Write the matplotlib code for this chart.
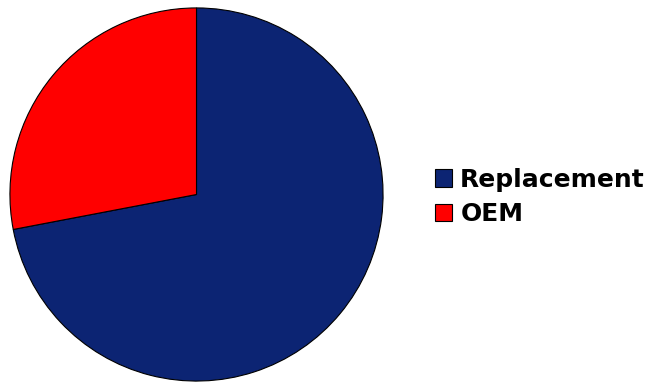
import matplotlib.pyplot as plt

labels = ['Replacement', 'OEM']
shares = [72, 28]
colors = ['#0c2473', '#ff0000']

fig = plt.figure(figsize=(6.51, 3.82), dpi=100)
ax = fig.add_axes([9 / 651, 0 / 382, 375 / 651, 375 / 382])

wedges, _ = ax.pie(shares, colors=colors, startangle=90, counterclock=False,
                   radius=1.0, wedgeprops=dict(edgecolor='black', linewidth=0.8))
ax.set_xlim(-1.005, 1.005)
ax.set_ylim(-1.005, 1.005)
ax.set_aspect('equal')
ax.axis('off')

leg = fig.legend(wedges, labels, loc='center left', bbox_to_anchor=(417 / 651, 185 / 382),
                 frameon=False, prop=dict(family='DejaVu Sans', weight='bold', size=18),
                 handlelength=0.68, handleheight=0.68, handletextpad=0.35, labelspacing=0.42,
                 borderpad=0.2)
for h in leg.legend_handles:
    h.set_edgecolor('black')
    h.set_linewidth(0.8)

fig.savefig('out.png', dpi=100)
